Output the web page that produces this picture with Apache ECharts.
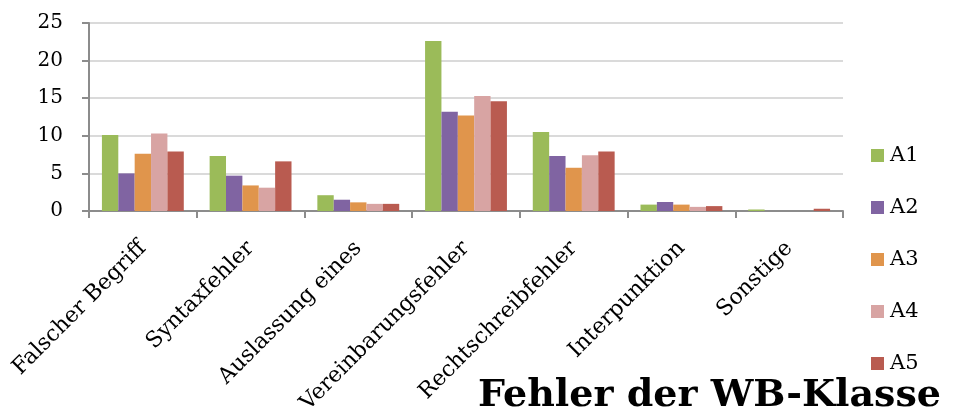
<!DOCTYPE html>
<html>
<head>
<meta charset="utf-8">
<script src="https://cdn.jsdelivr.net/npm/echarts@6/dist/echarts.min.js"></script>
<style>
  html, body { margin: 0; padding: 0; background: #fff; }
  #chart { width: 953px; height: 412px; }
</style>
</head>
<body>
<div id="chart"></div>
<script>
// Error categories
const categories = [
  'Falscher Begriff', 'Syntaxfehler', 'Auslassung eines',
  'Vereinbarungsfehler', 'Rechtschreibfehler', 'Interpunktion', 'Sonstige'
];
// Error counts per task
const seriesNames = ['A1', 'A2', 'A3', 'A4', 'A5'];
const a1 = [10.1, 7.3, 2.1, 22.6, 10.5, 0.85, 0.2];
const a2 = [5.0, 4.7, 1.5, 13.2, 7.3, 1.2, 0];
const a3 = [7.6, 3.4, 1.15, 12.7, 5.75, 0.85, 0];
const a4 = [10.3, 3.1, 0.95, 15.3, 7.4, 0.55, 0];
const a5 = [7.9, 6.6, 0.95, 14.6, 7.9, 0.65, 0.3];
const yTicks = { min: 0, max: 25, interval: 5 };
const titleText = 'Fehler der WB-Klasse';

const colors = ['#9BBB59', '#8064A2', '#E0954C', '#D8A4A3', '#B95B50'];
const values = [a1, a2, a3, a4, a5];
const serif = 'DejaVu Serif';

const chart = echarts.init(document.getElementById('chart'), null, { renderer: 'canvas' });
chart.setOption({
  animation: false,
  backgroundColor: '#fff',
  color: colors,
  title: {
    text: titleText,
    right: 7,
    top: 372,
    z: 10,
    textStyle: {
      fontFamily: serif,
      fontWeight: 'bold',
      fontSize: 38,
      color: '#000'
    }
  },
  legend: {
    orient: 'vertical',
    left: 866,
    top: 140,
    itemWidth: 13,
    itemHeight: 13,
    itemGap: 31,
    icon: 'rect',
    data: seriesNames,
    textStyle: { fontFamily: serif, fontSize: 21, color: '#000', padding: [0, 0, 0, 1] }
  },
  grid: {
    left: 89, right: 110, top: 23, bottom: 201,
    containLabel: false,
    outerBoundsMode: 'none'
  },
  xAxis: {
    type: 'category',
    data: categories,
    axisLine: { lineStyle: { color: '#8C8C8C', width: 2 } },
    axisTick: { show: true, length: 7, lineStyle: { color: '#8C8C8C', width: 2 } },
    axisLabel: {
      rotate: 45,
      interval: 0,
      margin: 34,
      fontFamily: serif,
      fontSize: 22,
      color: '#000'
    },
    splitLine: { show: false }
  },
  yAxis: {
    type: 'value',
    min: yTicks.min,
    max: yTicks.max,
    interval: yTicks.interval,
    axisLine: { show: true, lineStyle: { color: '#8C8C8C', width: 2 } },
    axisTick: { show: true, length: 7, lineStyle: { color: '#8C8C8C', width: 2 } },
    axisLabel: { margin: 26, fontFamily: serif, fontSize: 20, color: '#000' },
    splitLine: { show: true, lineStyle: { color: '#DADADA', width: 2 } }
  },
  series: seriesNames.map((name, i) => ({
    name,
    type: 'bar',
    data: values[i],
    barGap: '0%',
    barCategoryGap: '24%',
    itemStyle: { color: colors[i] }
  }))
});
</script>
</body>
</html>
